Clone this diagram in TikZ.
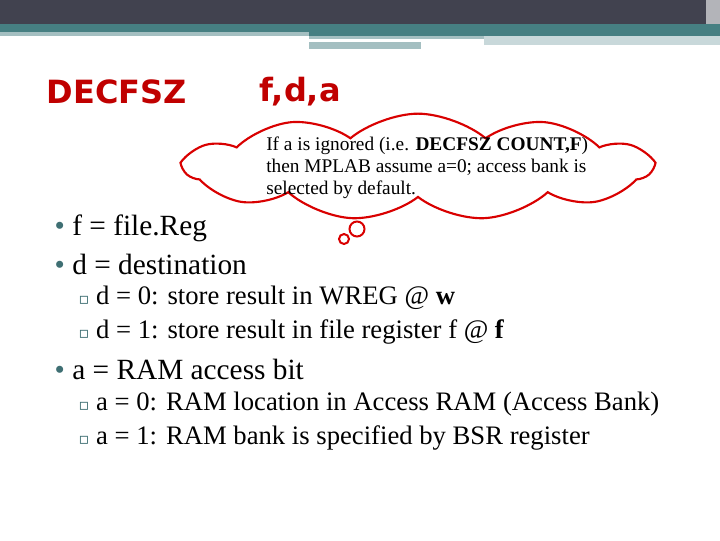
\documentclass[tikz,border=0pt]{standalone}
\usepackage{fontspec}
\setmainfont{Liberation Serif}
\newfontfamily\dejasans{DejaVu Sans}
\usetikzlibrary{shapes.symbols}
\definecolor{hdark}{HTML}{41424F}
\definecolor{hteal}{HTML}{467F82}
\definecolor{hlight}{HTML}{A4BFC1}
\definecolor{titlered}{HTML}{C00000}
\definecolor{bulletc}{HTML}{3F6F73}
\tikzset{
 line1/.style={anchor=west,font=\fontsize{22}{26}\selectfont},
 line2/.style={anchor=west,font=\fontsize{20}{24}\selectfont},
 title/.style={anchor=west,text=titlered,font=\dejasans\bfseries\fontsize{24}{28}\selectfont},
}
\newcommand{\bl}{{\color{bulletc}\textbullet}\ }
\newcommand{\sbl}{{\color{bulletc}\dejasans\fontsize{12}{12}\selectfont ▫}\ }
\begin{document}
\begin{tikzpicture}[x=0.75pt,y=-0.75pt]
\useasboundingbox (0,0) rectangle (720,540);
\fill[white] (0,0) rectangle (720,540);
\fill[hdark] (0,0) rectangle (720,24);
\fill[hteal] (0,24) rectangle (720,32);
\fill[hlight] (0,32) rectangle (309,36);
\fill[hteal] (309,32) rectangle (720,36);
\fill[hlight] (309,36) rectangle (484,39);
\fill[hlight] (309,42) rectangle (421,49);
\fill[hlight!60] (484,36) rectangle (720,45);
\fill[hdark!40] (706,0) rectangle (720,24);
\node[title] (t1) at (42,92) {DECFSZ};
\node[title] (t2) at (255,92) {f,d,a};
\node[cloud, cloud puffs=11, cloud puff arc=80, aspect=5, draw=red!85!black, line width=1.6pt, fill=white, minimum width=350pt, minimum height=80pt, inner sep=0pt] (cl) at (418,167) {};
\node[anchor=north west, align=left, font=\fontsize{14.5}{16.5}\selectfont, inner sep=0pt] (ct) at (266,137) {If a is ignored (i.e. \textbf{DECFSZ COUNT,F})\\then MPLAB assume a=0; access bank is\\selected by default.};
\draw[red!85!black, line width=1.5pt, fill=white] (357,229) circle (7.5);
\draw[red!85!black, line width=1.5pt, fill=white] (344,239) circle (5);
\node[line1] (b1) at (50,228) {\bl f = file.Reg};
\node[line1] (b2) at (50,264) {\bl d = destination};
\node[line2] (s1) at (74,298) {\sbl d = 0: store result in WREG @ \textbf{w}};
\node[line2] (s2) at (74,332) {\sbl d = 1: store result in file register f @ \textbf{f}};
\node[line1] (b3) at (50,369) {\bl a = RAM access bit};
\node[line2] (s3) at (74,404) {\sbl a = 0: RAM location in Access RAM (Access Bank)};
\node[line2] (s4) at (74,438) {\sbl a = 1: RAM bank is specified by BSR register};
\end{tikzpicture}
\end{document}
